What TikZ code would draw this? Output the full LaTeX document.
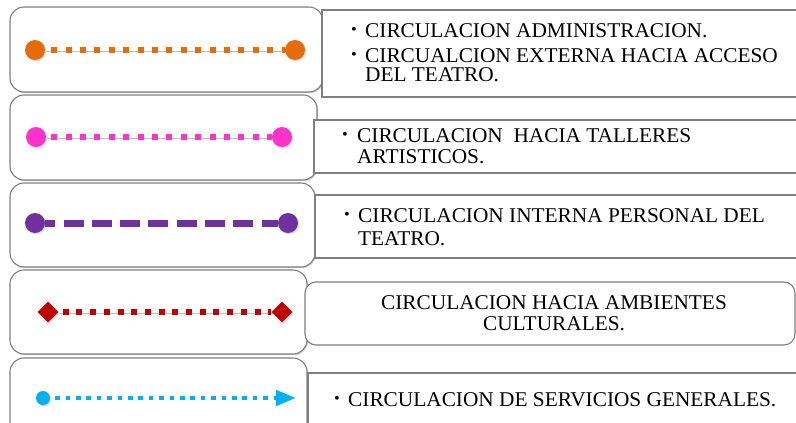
\documentclass[tikz,border=0pt]{standalone}
\usepackage{fontspec}
\setmainfont[FakeStretch=1.015]{Liberation Serif}
\usetikzlibrary{arrows.meta,shapes.geometric,shadows}
\definecolor{boxgray}{HTML}{7F7F7F}
\definecolor{corange}{HTML}{E46C0A}
\definecolor{cpink}{HTML}{FF33CC}
\definecolor{cpurple}{HTML}{7030A0}
\definecolor{cred}{HTML}{C00000}
\definecolor{ccyan}{HTML}{00B0F0}
\begin{document}
\begin{tikzpicture}[x=1pt,y=-1pt,
  lbox/.style={draw=boxgray, line width=1.1pt, fill=white, rounded corners=14pt,
    drop shadow={opacity=.35, shadow xshift=1.2pt, shadow yshift=-1.2pt}},
  rbox/.style={draw=boxgray, line width=1.1pt, fill=white},
  txt/.style={anchor=base west, inner sep=0pt, font=\fontsize{21}{22}\selectfont},
  ctxt/.style={anchor=base, inner sep=0pt, font=\fontsize{21}{22}\selectfont},
  bul/.style={anchor=center, inner sep=0pt, font=\fontsize{16}{16}\selectfont},
  dotnode/.style={circle, inner sep=0pt, minimum size=#1,
    drop shadow={opacity=.3, shadow xshift=1.2pt, shadow yshift=-1.2pt}},
  dianode/.style={diamond, inner sep=0pt, minimum width=21pt, minimum height=21pt,
    drop shadow={opacity=.3, shadow xshift=1.2pt, shadow yshift=-1.2pt}},
  lshadow/.style={preaction={draw=black, draw opacity=.25,
    transform canvas={xshift=1.2pt, yshift=-1.2pt}}}
]
\useasboundingbox (0,0) rectangle (796,423);
\clip (0,0) rectangle (796,423);

% left rounded boxes
\path[lbox] (10,7) rectangle (323,92);
\path[lbox] (10,95) rectangle (317,180);
\path[lbox] (10,183) rectangle (315,267);
\path[lbox] (10,270) rectangle (307,354);
\path[lbox] (10,358) rectangle (307,440);

% right text boxes
\path[rbox] (322,10) rectangle (805,97);
\path[rbox] (314,120) rectangle (805,173);
\path[rbox] (315,195) rectangle (805,258);
\path[rbox, rounded corners=11pt] (305,282) rectangle (795,345);
\path[rbox] (308,373) rectangle (805,440);

% line 1 orange
\node[dotnode=20pt, fill=corange] (a1) at (35,50) {};
\node[dotnode=20pt, fill=corange] (b1) at (295,50) {};
\draw[corange, lshadow, line width=6.5pt, dash pattern=on 6pt off 8.4pt, dash phase=-6pt] (a1) -- (b1);

% line 2 pink
\node[dotnode=20pt, fill=cpink] (a2) at (36,137) {};
\node[dotnode=20pt, fill=cpink] (b2) at (282,137) {};
\draw[cpink, lshadow, line width=6.5pt, dash pattern=on 6pt off 8.4pt, dash phase=-5pt] (a2) -- (b2);

% line 3 purple
\node[dotnode=20pt, fill=cpurple] (a3) at (35,223) {};
\node[dotnode=20pt, fill=cpurple] (b3) at (288,223) {};
\draw[cpurple, line width=7pt, dash pattern=on 20pt off 8.3pt, dash phase=10pt] (a3) -- (b3);

% line 4 red
\node[dianode, fill=cred] (a4) at (48,312) {};
\node[dianode, fill=cred] (b4) at (282,312) {};
\draw[cred, lshadow, line width=6.5pt, dash pattern=on 6pt off 7.7pt, dash phase=-4pt] (a4) -- (b4);

% line 5 cyan
\node[dotnode=14pt, fill=ccyan] (a5) at (43,398) {};
\coordinate (b5) at (296,398);
\draw[ccyan, line width=4.5pt, dash pattern=on 4.5pt off 5.9pt, dash phase=-5pt,
  -{Triangle[length=20pt, width=15pt]}] (a5) -- (b5);

% texts
\node[bul] (u1a) at (354,31) {•};
\node[txt] (t1a) at (365,37) {CIRCULACION ADMINISTRACION.};
\node[bul] (u1b) at (354,56) {•};
\node[txt] (t1b) at (365,62) {CIRCUALCION EXTERNA HACIA ACCESO};
\node[txt] (t1c) at (365,81) {DEL TEATRO.};

\node[bul] (u2a) at (345,136) {•};
\node[txt] (t2a) at (357,142) {CIRCULACION~ HACIA TALLERES};
\node[txt] (t2b) at (357,163) {ARTISTICOS.};

\node[bul] (u3a) at (347,216) {•};
\node[txt] (t3a) at (358,222) {CIRCULACION INTERNA PERSONAL DEL};
\node[txt] (t3b) at (358,245) {TEATRO.};

\node[ctxt] (t4a) at (554,309) {CIRCULACION HACIA AMBIENTES};
\node[ctxt] (t4b) at (554,330) {CULTURALES.};

\node[bul] (u5a) at (337,400) {•};
\node[txt] (t5a) at (348,406) {CIRCULACION DE SERVICIOS GENERALES.};
\end{tikzpicture}
\end{document}
